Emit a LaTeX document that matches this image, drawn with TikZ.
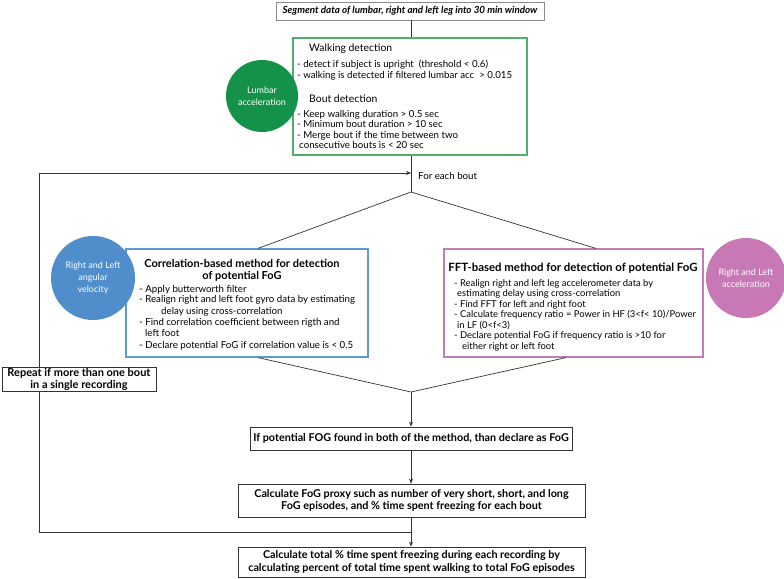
\documentclass[tikz,border=0pt]{standalone}
\usepackage{fontspec}
\setmainfont{Lato}
\usetikzlibrary{arrows.meta}
\definecolor{greencirc}{HTML}{15924A}
\definecolor{greenbox}{HTML}{4CB26A}
\definecolor{bluecirc}{HTML}{4F8DCB}
\definecolor{bluebox}{HTML}{5B9BD5}
\definecolor{pinkcirc}{HTML}{C878B5}
\definecolor{pinkbox}{HTML}{C27BB5}
\definecolor{linec}{HTML}{333333}
\definecolor{greyb}{HTML}{8A8A8A}
\begin{document}
\begin{tikzpicture}[x=1pt,y=-1pt,
  box/.style={draw=linec, fill=white, line width=0.8pt, inner sep=0pt, align=center},
  colbox/.style={draw=#1, fill=white, line width=1.2pt, inner sep=0pt},
  circ/.style={circle, fill=#1, draw=none, inner sep=0pt, text=white, align=center, font=\fontsize{9}{12}\selectfont},
  conn/.style={draw=linec, line width=0.7pt},
  arr/.style={conn, -{Stealth[length=5pt,width=4pt]}},
  tl/.style={anchor=base west, inner sep=0pt, font=\fontsize{9.7}{11}\selectfont},
  ptl/.style={anchor=base west, inner sep=0pt, font=\fontsize{9.4}{11}\selectfont},
  hd/.style={anchor=base west, inner sep=0pt, font=\fontsize{10.4}{12}\selectfont},
  ttl/.style={anchor=base, inner sep=0pt, font=\fontsize{11}{12}\bfseries\selectfont},
  btxt/.style={font=\fontsize{10.8}{12.5}\bfseries\selectfont}]
\useasboundingbox (0,0) rectangle (784,578);
\fill[white] (0,0) rectangle (784,578);

% loop line (drawn first, repeat box covers it)
\coordinate (j) at (411,532);
\coordinate (lb) at (39.5,532);
\coordinate (lt) at (39.5,173);
\coordinate (le) at (411,173);
\draw[arr] (j) -- (lb) -- (lt) -- (le);

% boxes
\node[box, draw=greyb, minimum width=268pt, minimum height=18pt, font=\fontsize{9.8}{11}\bfseries\itshape\selectfont] (top) at (410,11) {Segment data of lumbar, right and left leg into 30 min window};
\node[colbox=greenbox, minimum width=234pt, minimum height=117pt] (green) at (410,96.5) {};
\node[colbox=bluebox, minimum width=242pt, minimum height=108pt] (blue) at (247,303) {};
\node[colbox=pinkbox, minimum width=259pt, minimum height=108pt] (pink) at (573.5,303) {};
\node[box, minimum width=154pt, minimum height=24pt, font=\fontsize{11}{12}\bfseries\selectfont] (repeat) at (79,379) {Repeat if more than one bout\\in a single recording};
\node[box, minimum width=322pt, minimum height=23pt, btxt] (ifb) at (411,438.5) {If potential FOG found in both of the method, than declare as FoG};
\node[box, minimum width=347pt, minimum height=33pt, btxt] (proxy) at (411.5,500.5) {Calculate FoG proxy such as number of very short, short, and long\\FoG episodes, and \% time spent freezing for each bout};
\node[box, minimum width=347pt, minimum height=30pt, btxt] (total) at (411.5,562) {Calculate total \% time spent freezing during each recording by\\calculating percent of total time spent walking to total FoG episodes};

% green text
\node[hd] (g1) at (309,52) {Walking detection};
\node[tl] (g2) at (297,67) {- detect if subject is upright\ \ (threshold < 0.6)};
\node[tl] (g3) at (297,78) {- walking is detected if filtered lumbar acc\ \ > 0.015};
\node[hd] (g4) at (309,102) {Bout detection};
\node[tl] (g5) at (297,117) {- Keep walking duration > 0.5 sec};
\node[tl] (g6) at (297,127.5) {- Minimum bout duration > 10 sec};
\node[tl] (g7) at (297,138) {- Merge bout if the time between two};
\node[tl] (g8) at (299,148.5) {consecutive bouts is < 20 sec};

% blue text
\node[ttl] (b0) at (242,267) {Correlation-based method for detection};
\node[ttl] (b00) at (242,279) {of potential FoG};
\node[tl] (b1) at (139,292) {- Apply butterworth filter};
\node[tl] (b2) at (139,302.5) {- Realign right and left foot gyro data by estimating};
\node[tl] (b3) at (161,314) {delay using cross-correlation};
\node[tl] (b4) at (139,325) {- Find correlation coefficient between rigth and};
\node[tl] (b5) at (145,336) {left foot};
\node[tl] (b6) at (139,348) {- Declare potential FoG if correlation value is < 0.5};

% pink text
\node[ttl, font=\fontsize{11.4}{12}\bfseries\selectfont] (p0) at (573,271) {FFT-based method for detection of potential FoG};
\node[ptl] (p1) at (454,286) {- Realign right and left leg accelerometer data by};
\node[ptl] (p2) at (457,296.5) {estimating delay using cross-correlation};
\node[ptl] (p3) at (454,307) {- Find FFT for left and right foot};
\node[ptl] (p4) at (454,317.5) {- Calculate frequency ratio = Power in HF (3<f< 10)/Power};
\node[ptl] (p5) at (457,328) {in LF (0<f<3)};
\node[ptl] (p6) at (454,338.5) {- Declare potential FoG if frequency ratio is >10 for};
\node[ptl] (p7) at (462,349) {either right or left foot};

% circles
\node[circ=greencirc, minimum size=72pt] (cg) at (262,96) {Lumbar\\acceleration};
\node[circ=bluecirc, minimum size=84pt] (cb) at (93,278) {Right and Left\\angular\\velocity};
\node[circ=pinkcirc, minimum size=80pt] (cp) at (746,278) {Right and Left\\acceleration};

% for each bout
\node[anchor=west, inner sep=0pt, font=\fontsize{9.7}{11}\selectfont] (feb) at (418,176) {For each bout};

% connectors
\coordinate (a1) at (411,192);
\coordinate (a2) at (411,392);
\draw[conn] (top.south -| 411,0) -- (green.north -| 411,0);
\draw[conn] (green.south -| 411,0) -- (a1);
\draw[conn] (a1) -- ([xshift=11pt]blue.north);
\draw[conn] (a1) -- ([xshift=22.5pt]pink.north);
\draw[conn] ([xshift=11pt]blue.south) -- (a2);
\draw[conn] ([xshift=-7.5pt]pink.south) -- (a2);
\draw[arr] (a2) -- (ifb.north);
\draw[arr] (ifb.south) -- (proxy.north -| ifb.south);
\draw[arr] (proxy.south -| ifb.south) -- (total.north -| ifb.south);
\end{tikzpicture}
\end{document}
